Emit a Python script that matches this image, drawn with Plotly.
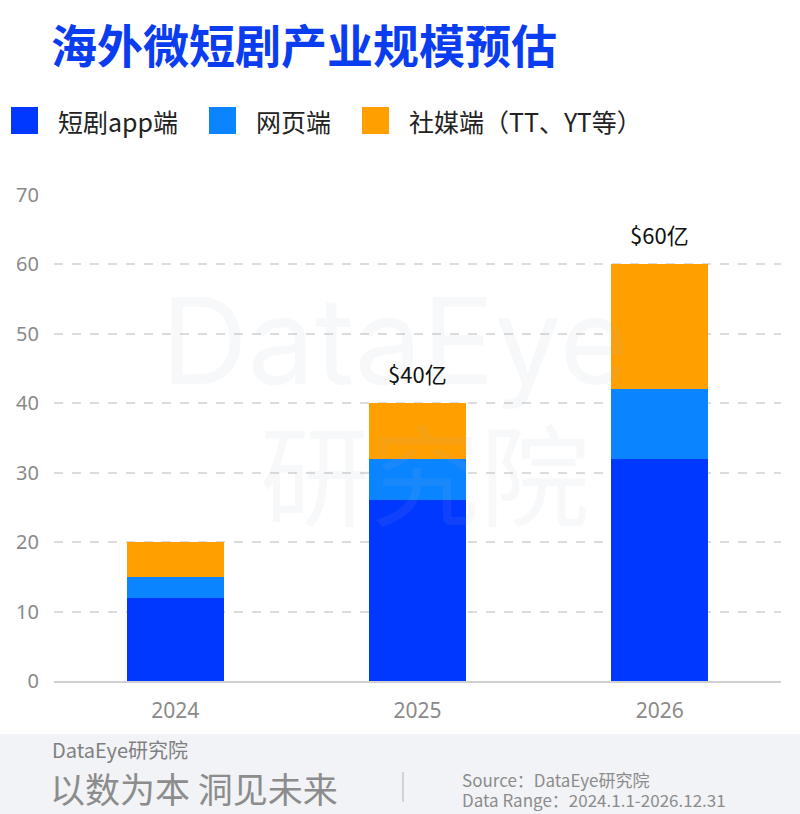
import plotly.graph_objects as go

years = ['2024', '2025', '2026']
app = [12, 26, 32]
web = [3, 6, 10]
social = [5, 8, 18]
totals = ['$20亿', '$40亿', '$60亿']
names = ['短剧app端', '网页端', '社媒端（TT、YT等）']
colors = ['#0038ff', '#0a84ff', '#ff9f00']

W, H = 800, 814
L, R, T, B = 54, 781, 195, 681
FONT = 'Noto Sans CJK SC'
MARK = 'rgba(170,180,200,0.09)'


def px(x):
    return (x - L) / (R - L)


def py(y):
    return (B - y) / (B - T)


def note(x, y, text, size, color, anchor='left', family=FONT):
    return dict(x=px(x), y=py(y), xref='paper', yref='paper', xanchor=anchor,
                yanchor='middle', text=text, showarrow=False,
                font=dict(family=family, size=size, color=color))


fig = go.Figure()
for vals, name, c in zip([app, web, social], names, colors):
    fig.add_trace(go.Bar(x=years, y=vals, name=name, marker_color=c,
                         marker_line_width=0, width=0.4, showlegend=False,
                         hoverinfo='skip'))

shapes = []
annotations = []

# faint watermark
annotations.append(note(395, 340, 'DataEye', 120, MARK, 'center', 'Inter'))
annotations.append(note(425, 470, '研究院', 110, MARK, 'center'))

# totals above bars (only 2025, 2026 labelled)
tot = [a + b + c for a, b, c in zip(app, web, social)]
for i in [1, 2]:
    annotations.append(dict(x=i, y=tot[i], xref='x', yref='y', text=totals[i],
                            showarrow=False, yanchor='bottom', yshift=12,
                            font=dict(family=FONT, size=22, color='#111')))

# title
annotations.append(note(49, 43, '<b>海外微短剧产业规模预估</b>', 46, '#0a3cf0'))

# legend
leg_x = [11, 209, 362]
for lx, name, c in zip(leg_x, names, colors):
    shapes.append(dict(type='rect', xref='paper', yref='paper', x0=px(lx), x1=px(lx + 27),
                       y0=py(107), y1=py(134), fillcolor=c, line_width=0))
    annotations.append(note(lx + 45, 121, name, 25, '#222'))

# footer
shapes.append(dict(type='rect', xref='paper', yref='paper', x0=px(0), x1=px(W),
                   y0=py(734), y1=py(H), fillcolor='#f1f3f6', line_width=0, layer='below'))
shapes.append(dict(type='line', xref='paper', yref='paper', x0=px(403), x1=px(403),
                   y0=py(772), y1=py(802), line=dict(color='#c8c8c8', width=1.5)))
annotations.append(note(50, 749, 'DataEye研究院', 20, '#808080'))
annotations.append(note(48, 787, '以数为本 洞见未来', 35, '#8c8c8c'))
annotations.append(note(460, 779, 'Source：DataEye研究院', 17, '#8c8c8c'))
annotations.append(note(460, 799, 'Data Range：2024.1.1-2026.12.31', 17, '#8c8c8c'))

fig.update_layout(
    width=W, height=H,
    margin=dict(l=L, r=W - R, t=T, b=H - B, pad=0),
    paper_bgcolor='white', plot_bgcolor='rgba(0,0,0,0)',
    barmode='stack',
    font=dict(family=FONT),
    shapes=shapes, annotations=annotations,
)
fig.update_yaxes(range=[0, 70], dtick=10, showgrid=True, gridcolor='#dcdcdc',
                 griddash='dash', gridwidth=1.5, zeroline=False, showline=False,
                 ticks='', ticklabelstandoff=14, fixedrange=True,
                 tickfont=dict(family='Noto Sans', size=20, color='#8a8a8a'))
fig.update_xaxes(type='category', range=[-0.5, 2.5], showgrid=False, showline=True,
                 linecolor='#d0d0d0', linewidth=2, ticks='', ticklabelstandoff=10,
                 fixedrange=True,
                 tickfont=dict(family='Noto Sans', size=21, color='#8a8a8a'))

fig.write_html('out.html', config={'displayModeBar': False},
               post_script="document.body.style.margin='0';document.body.style.overflow='hidden';")
